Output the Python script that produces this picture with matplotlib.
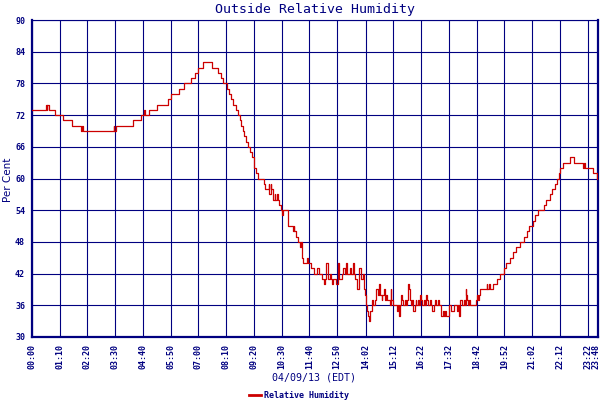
import matplotlib
matplotlib.use("Agg")
import matplotlib.pyplot as plt
import matplotlib.transforms as mtransforms

title = "Outside Relative Humidity"
x_title = "04/09/13 (EDT)"
y_title = "Per Cent"
series_name = "Relative Humidity"

tick_labels = ["00:00", "01:10", "02:20", "03:30", "04:40", "05:50", "07:00",
               "08:10", "09:20", "10:30", "11:40", "12:50", "14:02", "15:12",
               "16:22", "17:32", "18:42", "19:52", "21:02", "22:12", "23:22",
               "23:48"]
tick_minutes = [0, 70, 140, 210, 280, 350, 420, 490, 560, 630, 700, 770, 842,
                912, 982, 1052, 1122, 1192, 1262, 1332, 1402, 1428]
y_ticks = [30, 36, 42, 48, 54, 60, 66, 72, 78, 84, 90]

minutes = [0, 35, 37, 39, 42, 57, 77, 101, 124, 126, 128, 206, 208, 211, 255,
           276, 282, 285, 296, 315, 343, 351, 370, 383, 400, 410, 420, 432,
           453, 470, 476, 482, 492, 497, 502, 508, 514, 519, 524, 528, 532,
           536, 541, 546, 550, 555, 560, 564, 570, 585, 588, 598, 599, 603,
           604, 608, 612, 614, 618, 621, 623, 628, 632, 634, 645, 658, 660,
           662, 665, 671, 676, 678, 680, 683, 694, 696, 704, 711, 720, 725,
           731, 736, 738, 743, 746, 752, 755, 757, 760, 768, 771, 773, 775,
           781, 785, 789, 792, 795, 802, 806, 809, 812, 815, 819, 821, 824,
           826, 829, 831, 834, 838, 841, 842, 844, 848, 850, 852, 854, 859,
           861, 865, 869, 872, 875, 877, 879, 882, 884, 888, 891, 893, 896,
           899, 903, 905, 907, 911, 920, 923, 926, 928, 932, 934, 937, 940,
           943, 946, 949, 951, 953, 956, 958, 962, 966, 968, 970, 974, 977,
           979, 981, 985, 988, 991, 995, 997, 1000, 1003, 1006, 1010, 1014,
           1017, 1020, 1024, 1027, 1031, 1033, 1037, 1039, 1041, 1044, 1051,
           1058, 1064, 1072, 1075, 1077, 1080, 1086, 1089, 1092, 1095, 1096,
           1098, 1101, 1103, 1106, 1120, 1123, 1126, 1128, 1130, 1147, 1149,
           1153, 1155, 1164, 1172, 1182, 1192, 1197, 1207, 1214, 1222, 1231,
           1241, 1248, 1254, 1264, 1270, 1277, 1293, 1298, 1307, 1312, 1320,
           1324, 1329, 1333, 1339, 1357, 1368, 1389, 1392, 1396, 1415, 1426,
           1428]
humidity = [73, 74, 73, 74, 73, 72, 71, 70, 69, 70, 69, 70, 69, 70, 71,
            72, 73, 72, 73, 74, 75, 76, 77, 78, 79, 80, 81, 82,
            81, 80, 79, 78, 77, 76, 75, 74, 73, 72, 71, 70, 69,
            68, 67, 66, 65, 64, 62, 61, 60, 59, 58, 59, 57, 59,
            58, 56, 57, 56, 57, 56, 55, 54, 53, 54, 51, 50, 51,
            50, 49, 48, 47, 48, 45, 44, 45, 44, 43, 42, 43, 42,
            41, 40, 41, 44, 41, 42, 41, 40, 41, 40, 41, 44, 41,
            42, 43, 42, 44, 42, 43, 42, 44, 42, 41, 40, 39, 41,
            43, 42, 41, 42, 39, 38, 36, 35, 34, 33, 34, 35, 37,
            36, 37, 39, 38, 40, 39, 38, 37, 38, 39, 37, 38, 37,
            37, 36, 39, 37, 36, 35, 36, 34, 36, 38, 37, 36, 37,
            36, 37, 40, 39, 37, 36, 37, 35, 36, 37, 36, 37, 36,
            38, 37, 36, 37, 36, 38, 37, 36, 37, 36, 35, 36,
            37, 36, 37, 36, 35, 34, 35, 34, 35, 34, 36,
            35, 36, 35, 36, 34, 37, 36, 37, 36, 39, 38,
            37, 36, 37, 36, 37, 38, 37, 38, 39, 40, 39,
            40, 39, 40, 41, 42, 43, 44, 45, 46, 47, 48,
            49, 50, 51, 52, 53, 54, 55, 56, 57, 58, 59,
            60, 61, 62, 63, 64, 63, 62, 63, 62, 61, 60,
            60]

navy = "#000080"
red = "#CC0000"
mono = "DejaVu Sans Mono"

fig = plt.figure(figsize=(6, 4), dpi=100)
ax = fig.add_axes([32 / 600, 63 / 400, 566 / 600, 317 / 400])

line, = ax.step(minutes, humidity, where="post", color=red, linewidth=0.9,
                label=series_name, zorder=3)

ax.set_xlim(tick_minutes[0], tick_minutes[-1])
ax.set_ylim(y_ticks[0], y_ticks[-1])
ax.set_xticks(tick_minutes)
ax.set_xticklabels(tick_labels, rotation=90, fontsize=6, family=mono,
                   fontweight="bold", color=navy, va="top")
ax.set_yticks(y_ticks)
ax.set_yticklabels([str(v) for v in y_ticks], fontsize=6, family=mono,
                   fontweight="bold", color=navy)
ax.tick_params(axis="both", length=0)
ax.tick_params(axis="x", pad=5)
ax.tick_params(axis="y", pad=5)
ax.grid(True, color=navy, linewidth=0.8, zorder=1)
ax.set_axisbelow(True)

# keep the last time label inside the picture, just clear of its neighbour
last_lbl = ax.get_xticklabels()[-1]
last_lbl.set_transform(last_lbl.get_transform() +
                       mtransforms.ScaledTranslation(-2.2 / 100, 0, fig.dpi_scale_trans))

for side in ["left", "bottom", "right"]:
    ax.spines[side].set_color(navy)
    ax.spines[side].set_linewidth(1.6)
ax.spines["top"].set_color(navy)
ax.spines["top"].set_linewidth(0.8)

fig.text(315 / 600, 1 - 9 / 400, title, ha="center", va="center",
         fontsize=9.5, family=mono, color=navy)
fig.text(314 / 600, 1 - 378 / 400, x_title, ha="center", va="center",
         fontsize=7.2, family=mono, color=navy)
fig.text(8 / 600, 1 - 180 / 400, y_title, ha="center", va="center",
         rotation=90, fontsize=7.5, family="DejaVu Sans", color=navy)

leg = fig.legend(handles=[line], loc="center", bbox_to_anchor=(299 / 600, 5 / 400),
                 frameon=False, handlelength=1.4, handletextpad=0.3,
                 prop={"family": mono, "size": 6, "weight": "bold"})
for t in leg.get_texts():
    t.set_color(navy)
for h in leg.legend_handles:
    h.set_linewidth(2.0)

fig.savefig("out.png", dpi=100, facecolor="white")
